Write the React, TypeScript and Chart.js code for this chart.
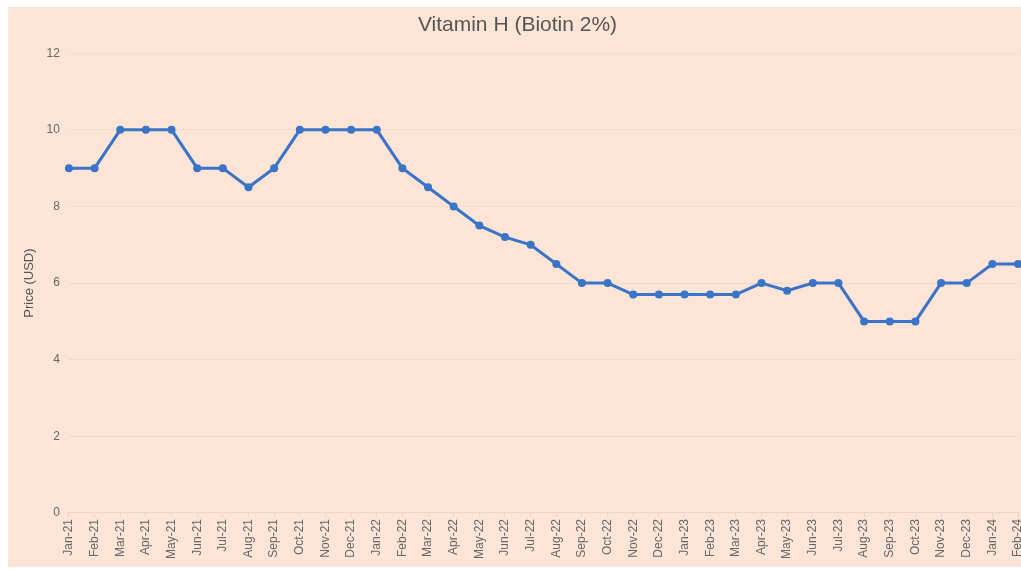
import React, { useEffect, useRef } from "react";
import { Chart, registerables } from "chart.js";

Chart.register(...registerables);

const months: string[] = [
  "Jan-21", "Feb-21", "Mar-21", "Apr-21", "May-21", "Jun-21", "Jul-21", "Aug-21", "Sep-21", "Oct-21", "Nov-21", "Dec-21",
  "Jan-22", "Feb-22", "Mar-22", "Apr-22", "May-22", "Jun-22", "Jul-22", "Aug-22", "Sep-22", "Oct-22", "Nov-22", "Dec-22",
  "Jan-23", "Feb-23", "Mar-23", "Apr-23", "May-23", "Jun-23", "Jul-23", "Aug-23", "Sep-23", "Oct-23", "Nov-23", "Dec-23",
  "Jan-24", "Feb-24",
];

const prices: number[] = [
  9, 9, 10, 10, 10, 9, 9, 8.5, 9, 10, 10, 10,
  10, 9, 8.5, 8, 7.5, 7.2, 7, 6.5, 6, 6, 5.7, 5.7,
  5.7, 5.7, 5.7, 6, 5.8, 6, 6, 5, 5, 5, 6, 6,
  6.5, 6.5,
];

const chartTitle = "Vitamin H (Biotin 2%)";
const yAxisTitle = "Price (USD)";

export default function App() {
  const ref = useRef<HTMLCanvasElement | null>(null);

  useEffect(() => {
    document.body.style.margin = "7px 0 0 8px";
    document.body.style.overflow = "hidden";
    const canvas = ref.current;
    if (!canvas) return;
    const font = "'Liberation Sans', Arial, Helvetica, sans-serif";
    const chart = new Chart(canvas, {
      type: "line",
      data: {
        labels: months,
        datasets: [
          {
            label: "Price",
            data: prices,
            borderColor: "#3a74c6",
            backgroundColor: "#3a74c6",
            borderWidth: 3,
            pointRadius: 4,
            pointBorderWidth: 0,
            pointHoverRadius: 4,
            tension: 0,
          },
        ],
      },
      options: {
        responsive: false,
        animation: false,
        layout: { padding: { top: 4, right: 17, bottom: 6, left: 9 } },
        plugins: {
          legend: { display: false },
          tooltip: { enabled: false },
          title: {
            display: true,
            text: chartTitle,
            color: "#555555",
            font: { family: font, size: 21, weight: "normal" },
            padding: { top: 2, bottom: 15 },
          },
        },
        scales: {
          x: {
            offset: false,
            grid: {
              display: true,
              drawOnChartArea: false,
              drawTicks: true,
              tickLength: 4,
              color: "#e8d6cc",
            },
            border: { display: true, color: "#e8d6cc" },
            ticks: {
              autoSkip: false,
              maxRotation: 90,
              minRotation: 90,
              color: "#666666",
              font: { family: font, size: 12 },
              padding: 2,
            },
          },
          y: {
            min: 0,
            max: 12,
            ticks: {
              stepSize: 2,
              color: "#666666",
              font: { family: font, size: 12 },
              padding: 9,
            },
            grid: {
              color: "#eedbd0",
              drawTicks: false,
            },
            border: { display: false },
            title: {
              display: true,
              text: yAxisTitle,
              color: "#555555",
              font: { family: font, size: 13 },
              padding: { top: 5, bottom: 0 },
            },
          },
        },
      },
    });
    return () => chart.destroy();
  }, []);

  return (
    <div style={{ width: 1013, height: 560, background: "#fce4d6" }}>
      <canvas ref={ref} width={1027} height={560} />
    </div>
  );
}
